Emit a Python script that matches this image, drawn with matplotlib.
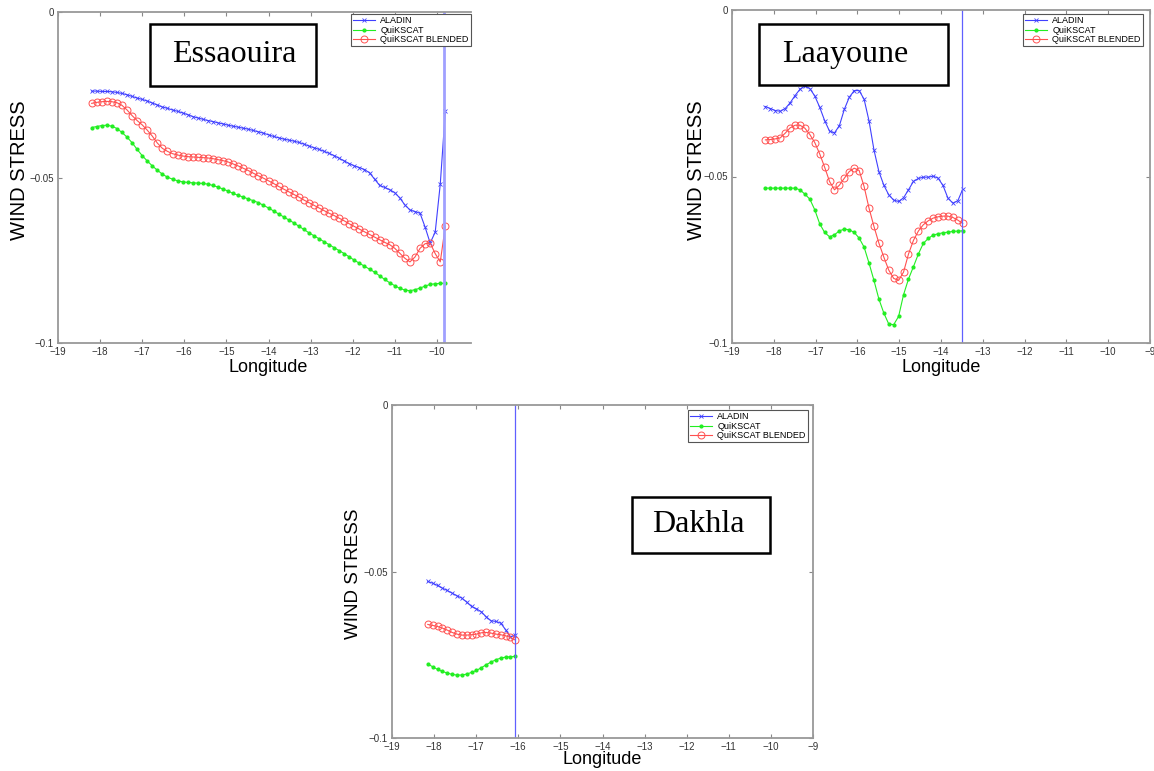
import numpy as np
import matplotlib
matplotlib.use("Agg")
import matplotlib.pyplot as plt
from matplotlib.patches import Rectangle

W, H = 1154, 771
plt.rcParams["font.family"] = ["Liberation Sans", "DejaVu Sans"]

# --- Essaouira ---
ess_lon = np.linspace(-18.2, -9.8, 71)
ess_aladin = [
    -0.0239, -0.0239, -0.0240, -0.0240, -0.0241, -0.0243, -0.0246, -0.0250, -0.0255, -0.0260,
    -0.0264, -0.0269, -0.0275, -0.0281, -0.0287, -0.0291, -0.0296, -0.0300, -0.0305, -0.0310,
    -0.0316, -0.0320, -0.0324, -0.0328, -0.0331, -0.0335, -0.0338, -0.0342, -0.0345, -0.0348,
    -0.0351, -0.0354, -0.0358, -0.0362, -0.0366, -0.0371, -0.0376, -0.0380, -0.0384, -0.0387,
    -0.0390, -0.0394, -0.0399, -0.0405, -0.0410, -0.0415, -0.0421, -0.0427, -0.0434, -0.0442,
    -0.0450, -0.0458, -0.0465, -0.0470, -0.0476, -0.0486, -0.0505, -0.0524, -0.0530, -0.0537,
    -0.0546, -0.0562, -0.0583, -0.0598, -0.0603, -0.0608, -0.0650, -0.0698, -0.0665, -0.0520,
    -0.0300]
ess_qscat = [
    -0.0349, -0.0346, -0.0343, -0.0342, -0.0345, -0.0352, -0.0364, -0.0378, -0.0395, -0.0415,
    -0.0434, -0.0450, -0.0465, -0.0478, -0.0490, -0.0499, -0.0505, -0.0510, -0.0513, -0.0515,
    -0.0516, -0.0517, -0.0518, -0.0520, -0.0524, -0.0529, -0.0535, -0.0541, -0.0548, -0.0554,
    -0.0559, -0.0565, -0.0570, -0.0576, -0.0584, -0.0592, -0.0601, -0.0610, -0.0619, -0.0628,
    -0.0637, -0.0647, -0.0657, -0.0667, -0.0676, -0.0685, -0.0694, -0.0703, -0.0712, -0.0721,
    -0.0730, -0.0740, -0.0750, -0.0759, -0.0768, -0.0777, -0.0786, -0.0797, -0.0808, -0.0818,
    -0.0827, -0.0835, -0.0840, -0.0842, -0.0839, -0.0834, -0.0828, -0.0823, -0.0821, -0.0820,
    -0.0819]
ess_blend = [
    -0.0276, -0.0273, -0.0271, -0.0270, -0.0271, -0.0274, -0.0282, -0.0296, -0.0313, -0.0328,
    -0.0341, -0.0357, -0.0375, -0.0396, -0.0412, -0.0421, -0.0428, -0.0432, -0.0435, -0.0437,
    -0.0438, -0.0439, -0.0440, -0.0441, -0.0443, -0.0446, -0.0449, -0.0453, -0.0459, -0.0465,
    -0.0472, -0.0479, -0.0487, -0.0495, -0.0502, -0.0510, -0.0518, -0.0527, -0.0535, -0.0543,
    -0.0551, -0.0559, -0.0568, -0.0576, -0.0584, -0.0592, -0.0600, -0.0608, -0.0615, -0.0623,
    -0.0631, -0.0640, -0.0648, -0.0656, -0.0664, -0.0672, -0.0680, -0.0688, -0.0696, -0.0703,
    -0.0714, -0.0729, -0.0744, -0.0755, -0.0740, -0.0714, -0.0700, -0.0698, -0.0730, -0.0755,
    -0.0647]
ess_coast = -9.82

# --- Laayoune ---
laa_lon = np.linspace(-18.2, -13.48, 41)
laa_aladin = [
    -0.0290, -0.0296, -0.0302, -0.0304, -0.0296, -0.0279, -0.0257, -0.0238, -0.0228, -0.0236,
    -0.0258, -0.0292, -0.0332, -0.0364, -0.0369, -0.0347, -0.0298, -0.0262, -0.0242, -0.0242,
    -0.0268, -0.0333, -0.0420, -0.0485, -0.0526, -0.0555, -0.0571, -0.0575, -0.0564, -0.0540,
    -0.0515, -0.0506, -0.0502, -0.0502, -0.0499, -0.0505, -0.0527, -0.0565, -0.0580, -0.0573,
    -0.0538]
laa_qscat = [
    -0.0535, -0.0535, -0.0535, -0.0535, -0.0535, -0.0535, -0.0535, -0.0540, -0.0553, -0.0568,
    -0.0600, -0.0642, -0.0668, -0.0681, -0.0675, -0.0663, -0.0658, -0.0660, -0.0668, -0.0685,
    -0.0712, -0.0760, -0.0812, -0.0868, -0.0910, -0.0943, -0.0945, -0.0920, -0.0855, -0.0808,
    -0.0771, -0.0733, -0.0701, -0.0686, -0.0676, -0.0672, -0.0669, -0.0667, -0.0665, -0.0664,
    -0.0663]
laa_blend = [
    -0.0390, -0.0389, -0.0387, -0.0384, -0.0370, -0.0354, -0.0346, -0.0346, -0.0355, -0.0374,
    -0.0398, -0.0432, -0.0472, -0.0515, -0.0540, -0.0526, -0.0505, -0.0485, -0.0475, -0.0482,
    -0.0530, -0.0595, -0.0650, -0.0700, -0.0742, -0.0781, -0.0806, -0.0812, -0.0787, -0.0733,
    -0.0692, -0.0664, -0.0645, -0.0633, -0.0625, -0.0621, -0.0619, -0.0619, -0.0623, -0.0631,
    -0.0641]
laa_coast = -13.49

# --- Dakhla ---
dak_lon = np.linspace(-18.15, -16.07, 19)
dak_aladin = [
    -0.0530, -0.0535, -0.0542, -0.0550, -0.0557, -0.0565, -0.0573, -0.0580, -0.0592, -0.0605,
    -0.0612, -0.0621, -0.0636, -0.0648, -0.0650, -0.0655, -0.0675, -0.0697, -0.0690]
dak_qscat = [
    -0.0778, -0.0786, -0.0794, -0.0800, -0.0805, -0.0809, -0.0811, -0.0811, -0.0808, -0.0803,
    -0.0797, -0.0789, -0.0780, -0.0772, -0.0765, -0.0760, -0.0757, -0.0756, -0.0755]
dak_blend = [
    -0.0659, -0.0662, -0.0665, -0.0670, -0.0676, -0.0683, -0.0688, -0.0691, -0.0691, -0.0690,
    -0.0688, -0.0684, -0.0683, -0.0685, -0.0688, -0.0690, -0.0693, -0.0698, -0.0706]
dak_coast = -16.07

x_ticks = list(range(-19, -8))
y_ticks = [-0.1, -0.05, 0]
y_ticklabels = ["\u22120.1", "\u22120.05", "0"]
series_names = ["ALADIN", "QuiKSCAT", "QuiKSCAT BLENDED"]

fig = plt.figure(figsize=(W / 100, H / 100), dpi=100)


def px_axes(l, t, r, b):
    return fig.add_axes([l / W, 1 - b / H, (r - l) / W, (b - t) / H])


def panel(ax, lon, al, qs, bl, coast, xmax, leg_off, coast_style):
    ax.plot(lon, al, color="#4040ff", marker="x", ms=3, mew=0.6, lw=0.8, label=series_names[0])
    ax.plot(lon, qs, color="#22ee22", marker=".", ms=4, lw=0.8, label=series_names[1])
    ax.plot(lon, bl, color="#ff5050", marker="o", mfc="none", ms=5, mew=0.7, lw=0.8,
            label=series_names[2])
    ax.axvline(coast, **coast_style)
    ax.set_xlim(-19, xmax)
    ax.set_ylim(-0.1, 0)
    ax.set_xticks([t for t in x_ticks if t <= xmax])
    ax.set_xticklabels([str(t).replace("-", "\u2212") for t in x_ticks if t <= xmax])
    ax.set_yticks(y_ticks)
    ax.set_yticklabels(y_ticklabels)
    ax.tick_params(direction="in", length=3, width=0.8, color="#888888",
                   labelsize=7, top=True, right=True, pad=3, labelcolor="#333333")
    for s in ax.spines.values():
        s.set_color("#999999")
        s.set_linewidth(1.3)
    leg = ax.legend(loc="upper right", bbox_to_anchor=(1 - leg_off[0], 1 - leg_off[1]),
                    fontsize=6.5, fancybox=False, framealpha=1, edgecolor="#555555",
                    handlelength=2.4, borderpad=0.25, labelspacing=0.05, handletextpad=0.6,
                    borderaxespad=0)
    leg.get_frame().set_linewidth(0.8)


# Essaouira (right edge of the panel is cut)
ax1 = px_axes(58, 12, 471, 343)
panel(ax1, ess_lon, ess_aladin, ess_qscat, ess_blend, ess_coast, -9 - 8 / 42.1,
      (0.0, 0.006), dict(color="#a0a0ff", lw=2.0))
ax1.spines["right"].set_visible(False)
ax1.tick_params(right=False)

ax2 = px_axes(732, 10, 1150, 343)
panel(ax2, laa_lon, laa_aladin, laa_qscat, laa_blend, laa_coast, -9,
      (7 / 418, 0.012), dict(color="#6060ff", lw=0.9))

ax3 = px_axes(392, 405, 813, 738)
panel(ax3, dak_lon, dak_aladin, dak_qscat, dak_blend, dak_coast, -9,
      (5 / 421, 0.015), dict(color="#6060ff", lw=0.9))

# axis labels
for (x, y, fs) in [(20, 170, 14.5), (696, 170, 14.5), (354, 574, 13.5)]:
    fig.text(x / W, 1 - y / H, "WIND STRESS", rotation=90, ha="center", va="center",
             fontsize=fs)
for (x, y) in [(268, 367), (941, 367), (602, 760)]:
    fig.text(x / W, 1 - y / H, "Longitude", ha="center", va="center", fontsize=13)

# station name boxes
for name, (l, t, r, b), tx in [("Essaouira", (150, 24, 316, 86), 172),
                               ("Laayoune", (759, 24, 948, 85), 782),
                               ("Dakhla", (632, 497, 770, 553), 652)]:
    fig.patches.append(Rectangle((l / W, 1 - b / H), (r - l) / W, (b - t) / H,
                                 transform=fig.transFigure, fill=True, facecolor="white",
                                 edgecolor="black", lw=1.8, zorder=5))
    fig.text(tx / W, 1 - (t + b) / 2 / H, name, ha="left", va="center", fontsize=23,
             family="Liberation Serif", zorder=6)

fig.savefig("out.png", dpi=100)
